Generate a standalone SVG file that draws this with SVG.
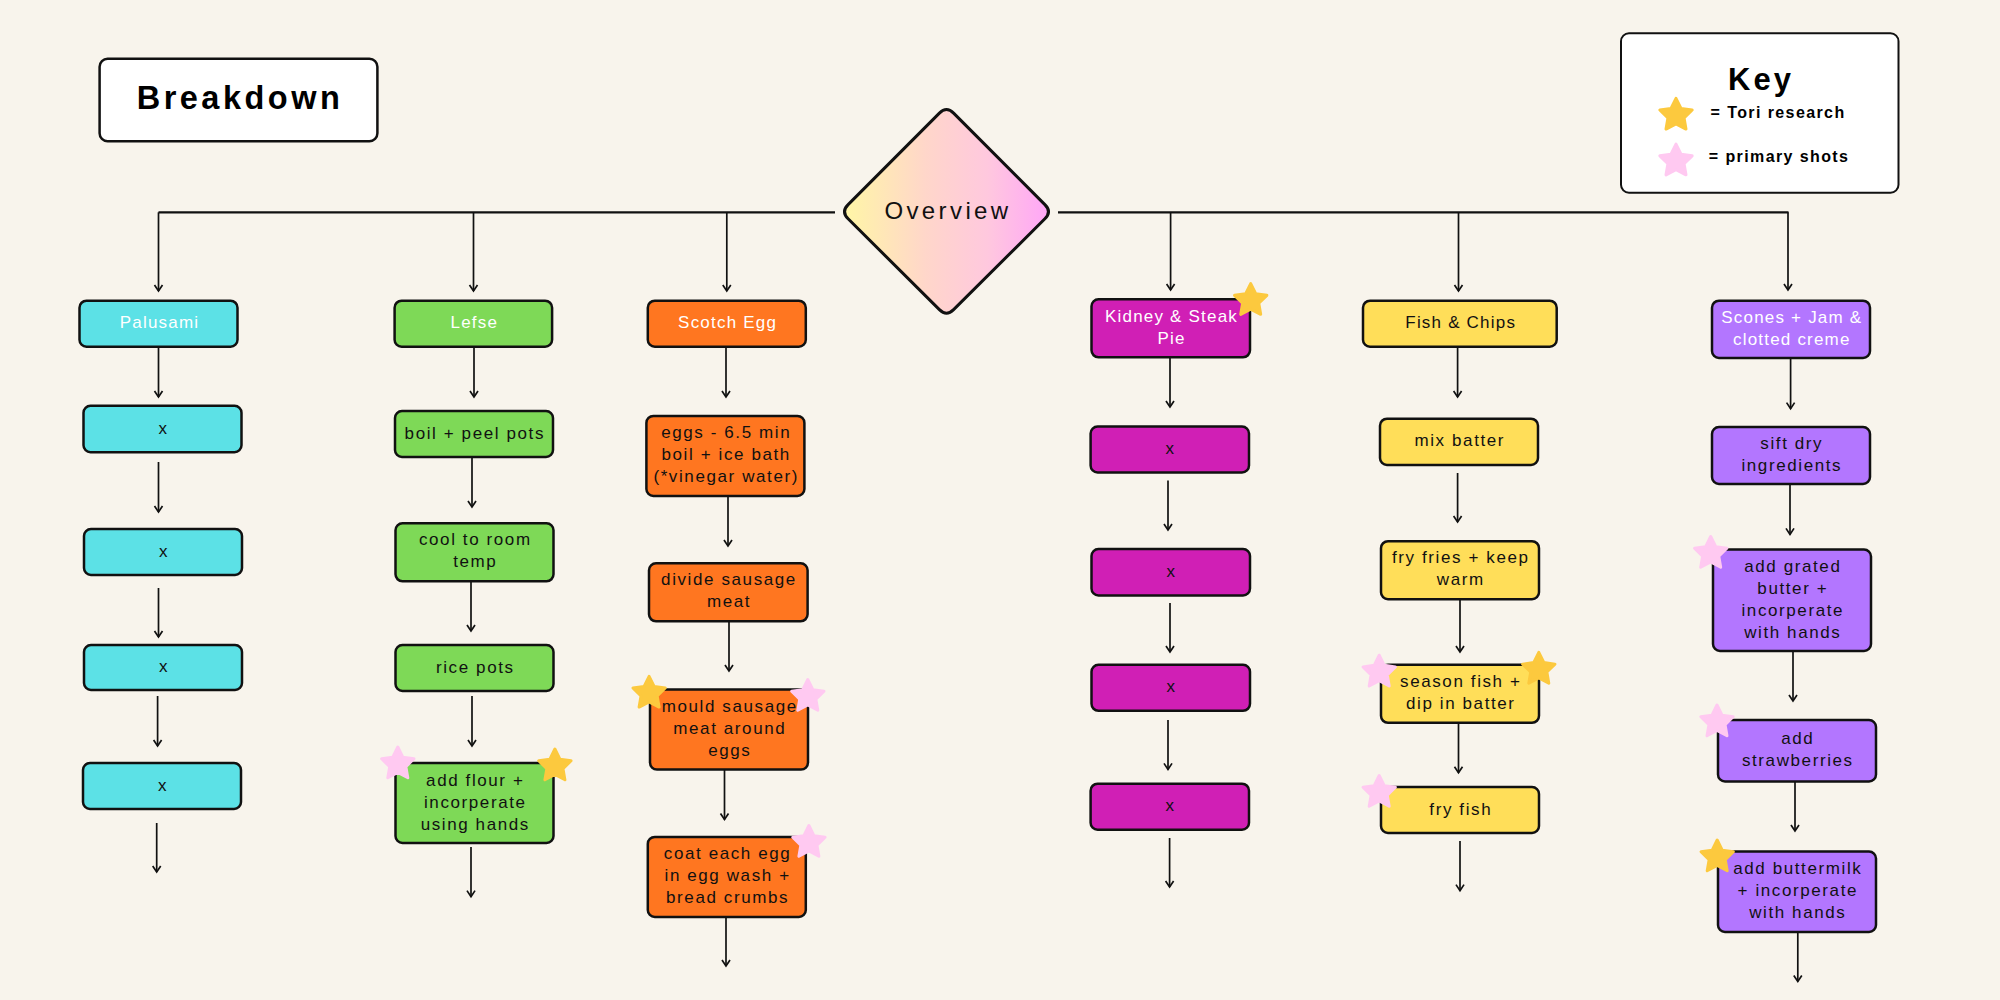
<svg xmlns="http://www.w3.org/2000/svg" width="2000" height="1000" viewBox="0 0 2000 1000">
<defs>
<style>
.bg{fill:#F8F4EC}
.box{stroke:#111;stroke-width:2.5}
.c{fill:#5CE1E6}.g{fill:#7ED957}.o{fill:#FF7620}.m{fill:#D01FB5}.y{fill:#FFDE59}.p{fill:#B376FF}
.t{font-family:"Liberation Sans",Arial,sans-serif;font-size:17px;letter-spacing:1.6px;text-anchor:middle;fill:#111}
.w{fill:#FFFFFF;letter-spacing:1.2px}
.trunk{stroke:#111;stroke-width:2.2;fill:none}
.ar{stroke:#111;stroke-width:1.7;fill:none;marker-end:url(#ah)}
.ys{fill:#FCC93E;stroke:#FCC93E;stroke-width:3;stroke-linejoin:round}
.ps{fill:#FFC9F1;stroke:#FFC9F1;stroke-width:3;stroke-linejoin:round}
.hd{font-family:"Liberation Sans",Arial,sans-serif;font-weight:bold;fill:#000}
</style>
<marker id="ah" viewBox="-8 -6 10 12" markerWidth="10" markerHeight="12" refX="0" refY="0" orient="auto" markerUnits="userSpaceOnUse">
<path d="M-6,-4 L0,0 L-6,4" fill="none" stroke="#111" stroke-width="1.7" stroke-linejoin="miter"/>
</marker>
<linearGradient id="dg" x1="0" y1="0" x2="1" y2="0">
<stop offset="0" stop-color="#FFF6A6"/>
<stop offset="0.4" stop-color="#FFD6CA"/>
<stop offset="0.7" stop-color="#FFC8DE"/>
<stop offset="1" stop-color="#FFA6F7"/>
</linearGradient>
<path id="star" d="M0,-17 L5,-6.88 L16.17,-5.25 L8.08,2.63 L9.99,13.75 L0,8.5 L-9.99,13.75 L-8.08,2.63 L-16.17,-5.25 L-5,-6.88 Z"/>
</defs>
<rect class="bg" x="0" y="0" width="2000" height="1000"/>

<g id="breakdown">
<rect x="99.6" y="58.7" width="277.8" height="82.6" rx="8" fill="#FFFFFF" stroke="#111" stroke-width="2.5"/>
<text class="hd" x="240" y="109.3" font-size="32.5" letter-spacing="3.5" text-anchor="middle">Breakdown</text>
</g>

<g id="key">
<rect x="1621" y="33.3" width="277.5" height="159.4" rx="8" fill="#FFFFFF" stroke="#111" stroke-width="2"/>
<text class="hd" x="1761" y="90" font-size="31" letter-spacing="3" text-anchor="middle">Key</text>
<use href="#star" class="ys" x="1676" y="115.3"/>
<text class="hd" x="1710.6" y="118.3" font-size="16" letter-spacing="1.4">= Tori research</text>
<use href="#star" class="ps" x="1676" y="161.1"/>
<text class="hd" x="1708.8" y="162.3" font-size="16" letter-spacing="1.4">= primary shots</text>
</g>

<g id="connectors">
<path class="trunk" d="M158.5,212.3 H835"/>
<path class="trunk" d="M1058,212.3 H1788.5"/>
<path class="ar" d="M158.5,212.3 V291"/>
<path class="ar" d="M473.5,212.3 V291"/>
<path class="ar" d="M726.8,212.3 V291"/>
<path class="ar" d="M1170.6,212.3 V290"/>
<path class="ar" d="M1458.5,212.3 V291"/>
<path class="ar" d="M1788,212.3 V290"/>

<path class="ar" d="M158.5,346.6 V397"/>
<path class="ar" d="M158.5,462 V512"/>
<path class="ar" d="M158.5,588 V637"/>
<path class="ar" d="M157.6,696 V746"/>
<path class="ar" d="M156.7,823 V872"/>

<path class="ar" d="M474,346.6 V397"/>
<path class="ar" d="M472,457 V507"/>
<path class="ar" d="M471,581 V631"/>
<path class="ar" d="M472,696 V746"/>
<path class="ar" d="M471,847 V896.6"/>

<path class="ar" d="M726,346.6 V397"/>
<path class="ar" d="M728,496 V546"/>
<path class="ar" d="M729,621 V671"/>
<path class="ar" d="M724.5,769.4 V819.5"/>
<path class="ar" d="M726,917 V966"/>

<path class="ar" d="M1170,357 V407"/>
<path class="ar" d="M1168,480.6 V530"/>
<path class="ar" d="M1170,603 V652"/>
<path class="ar" d="M1168,720 V769.4"/>
<path class="ar" d="M1169.6,838 V887"/>

<path class="ar" d="M1457.6,346.6 V397"/>
<path class="ar" d="M1457.6,473 V522"/>
<path class="ar" d="M1460,599 V652"/>
<path class="ar" d="M1458.5,722.6 V772.7"/>
<path class="ar" d="M1460,841 V890.6"/>

<path class="ar" d="M1790.6,358 V408.6"/>
<path class="ar" d="M1790,484 V534.4"/>
<path class="ar" d="M1793,651 V701"/>
<path class="ar" d="M1795,781.4 V831"/>
<path class="ar" d="M1797.8,932 V981.5"/>
</g>

<g id="overview">
<path d="M953.6,113.1 L1044.9,204.6 Q1052,211.7 1044.9,218.8 L953.6,309.6 Q946.5,316.7 939.4,309.6 L848.1,218.8 Q841,211.7 848.1,204.6 L939.4,113.1 Q946.5,106 953.6,113.1 Z" fill="url(#dg)" stroke="#111" stroke-width="3"/>
<text x="948" y="219" font-family="Liberation Sans, Arial, sans-serif" font-size="24" letter-spacing="3.4" text-anchor="middle" fill="#111">Overview</text>
</g>

<!-- Palusami column -->
<g id="palusami"><rect class="box c" x="79.5" y="300.7" width="158" height="46" rx="7"/><text class="t w" x="159.5" y="328.2">Palusami</text></g>
<g id="palusami-1"><rect class="box c" x="83.5" y="405.8" width="158" height="46.4" rx="7"/><text class="t" x="163.5" y="433.5">x</text></g>
<g id="palusami-2"><rect class="box c" x="84" y="529" width="158" height="46" rx="7"/><text class="t" x="164" y="556.5">x</text></g>
<g id="palusami-3"><rect class="box c" x="84" y="645" width="158" height="45" rx="7"/><text class="t" x="164" y="672">x</text></g>
<g id="palusami-4"><rect class="box c" x="83" y="763" width="158" height="46" rx="7"/><text class="t" x="163" y="790.5">x</text></g>

<!-- Lefse column -->
<g id="lefse"><rect class="box g" x="394.6" y="300.7" width="157.5" height="46" rx="7"/><text class="t w" x="474.3" y="328.2">Lefse</text></g>
<g id="lefse-1"><rect class="box g" x="395" y="411" width="158" height="46" rx="7"/><text class="t" x="474.8" y="438.5">boil + peel pots</text></g>
<g id="lefse-2"><rect class="box g" x="395.5" y="523.3" width="158" height="58" rx="7"/><text class="t" x="475.3" y="545.3">cool to room</text><text class="t" x="475.3" y="567.3">temp</text></g>
<g id="lefse-3"><rect class="box g" x="395.5" y="645" width="158" height="46" rx="7"/><text class="t" x="475.3" y="672.5">rice pots</text></g>
<g id="lefse-4"><rect class="box g" x="395.5" y="763" width="158" height="80" rx="7"/><text class="t" x="475.3" y="785.5">add flour +</text><text class="t" x="475.3" y="807.5">incorperate</text><text class="t" x="475.3" y="829.5">using hands</text>
<use href="#star" class="ps" x="397.8" y="764"/><use href="#star" class="ys" x="554.9" y="766"/></g>

<!-- Scotch Egg column -->
<g id="scotch"><rect class="box o" x="647.8" y="300.7" width="158" height="46" rx="7"/><text class="t w" x="727.6" y="328.2">Scotch Egg</text></g>
<g id="scotch-1"><rect class="box o" x="646.4" y="415.9" width="158" height="80" rx="7"/><text class="t" x="726.2" y="438.4">eggs - 6.5 min</text><text class="t" x="726.2" y="460.4">boil + ice bath</text><text class="t" x="726.2" y="482.4">(*vinegar water)</text></g>
<g id="scotch-2"><rect class="box o" x="649" y="563.3" width="158.6" height="58" rx="7"/><text class="t" x="729" y="585.3">divide sausage</text><text class="t" x="729" y="607.3">meat</text></g>
<g id="scotch-3"><rect class="box o" x="650" y="689.6" width="158" height="80" rx="7"/><text class="t" x="729.8" y="712.1">mould sausage</text><text class="t" x="729.8" y="734.1">meat around</text><text class="t" x="729.8" y="756.1">eggs</text>
<use href="#star" class="ys" x="649.1" y="693.3"/><use href="#star" class="ps" x="807.8" y="696.5"/></g>
<g id="scotch-4"><rect class="box o" x="647.8" y="836.9" width="158" height="80" rx="7"/><text class="t" x="727.6" y="859.4">coat each egg</text><text class="t" x="727.6" y="881.4">in egg wash +</text><text class="t" x="727.6" y="903.4">bread crumbs</text>
<use href="#star" class="ps" x="808.9" y="842.5"/></g>

<!-- Kidney column -->
<g id="kidney"><rect class="box m" x="1091.5" y="299.3" width="158.5" height="58" rx="7"/><text class="t w" x="1171.5" y="321.5">Kidney &amp; Steak</text><text class="t w" x="1171.5" y="343.5">Pie</text>
<use href="#star" class="ys" x="1250.7" y="300.6"/></g>
<g id="kidney-1"><rect class="box m" x="1090.6" y="426.5" width="158.4" height="46" rx="7"/><text class="t" x="1170.6" y="454">x</text></g>
<g id="kidney-2"><rect class="box m" x="1091.5" y="549" width="158.5" height="46.4" rx="7"/><text class="t" x="1171.5" y="576.7">x</text></g>
<g id="kidney-3"><rect class="box m" x="1091.5" y="664.8" width="158.5" height="46" rx="7"/><text class="t" x="1171.5" y="692.3">x</text></g>
<g id="kidney-4"><rect class="box m" x="1090.6" y="783.7" width="158.4" height="46" rx="7"/><text class="t" x="1170.6" y="811.2">x</text></g>

<!-- Fish & Chips column -->
<g id="fish"><rect class="box y" x="1363" y="300.7" width="193.7" height="46" rx="7"/><text class="t" x="1460.7" y="328.2" style="letter-spacing:1.2px">Fish &amp; Chips</text></g>
<g id="fish-1"><rect class="box y" x="1380" y="418.7" width="158" height="46.3" rx="7"/><text class="t" x="1459.8" y="446.3">mix batter</text></g>
<g id="fish-2"><rect class="box y" x="1381" y="541.2" width="158" height="58" rx="7"/><text class="t" x="1460.8" y="563.2">fry fries + keep</text><text class="t" x="1460.8" y="585.2">warm</text></g>
<g id="fish-3"><rect class="box y" x="1381" y="664.8" width="158" height="58" rx="7"/><text class="t" x="1460.8" y="686.8">season fish +</text><text class="t" x="1460.8" y="708.8">dip in batter</text>
<use href="#star" class="ps" x="1379.2" y="672.2"/><use href="#star" class="ys" x="1538.8" y="669.4"/></g>
<g id="fish-4"><rect class="box y" x="1381" y="787" width="158" height="46" rx="7"/><text class="t" x="1460.8" y="814.5">fry fish</text>
<use href="#star" class="ps" x="1379.2" y="792.5"/></g>

<!-- Scones column -->
<g id="scones"><rect class="box p" x="1712" y="300.7" width="158" height="57.3" rx="7"/><text class="t w" x="1791.8" y="322.8">Scones + Jam &amp;</text><text class="t w" x="1791.8" y="344.8">clotted creme</text></g>
<g id="scones-1"><rect class="box p" x="1712" y="427" width="158" height="57" rx="7"/><text class="t" x="1791.8" y="449">sift dry</text><text class="t" x="1791.8" y="471">ingredients</text></g>
<g id="scones-2"><rect class="box p" x="1713" y="549.5" width="158" height="101.5" rx="7"/><text class="t" x="1792.8" y="572.3">add grated</text><text class="t" x="1792.8" y="594.3">butter +</text><text class="t" x="1792.8" y="616.3">incorperate</text><text class="t" x="1792.8" y="638.3">with hands</text>
<use href="#star" class="ps" x="1710.7" y="553.5"/></g>
<g id="scones-3"><rect class="box p" x="1718" y="720" width="158" height="61.5" rx="7"/><text class="t" x="1797.8" y="743.8">add</text><text class="t" x="1797.8" y="765.8">strawberries</text>
<use href="#star" class="ps" x="1717" y="722"/></g>
<g id="scones-4"><rect class="box p" x="1718" y="851.6" width="158" height="80.4" rx="7"/><text class="t" x="1797.8" y="874.3">add buttermilk</text><text class="t" x="1797.8" y="896.3">+ incorperate</text><text class="t" x="1797.8" y="918.3">with hands</text>
<use href="#star" class="ys" x="1717.2" y="857"/></g>
</svg>
